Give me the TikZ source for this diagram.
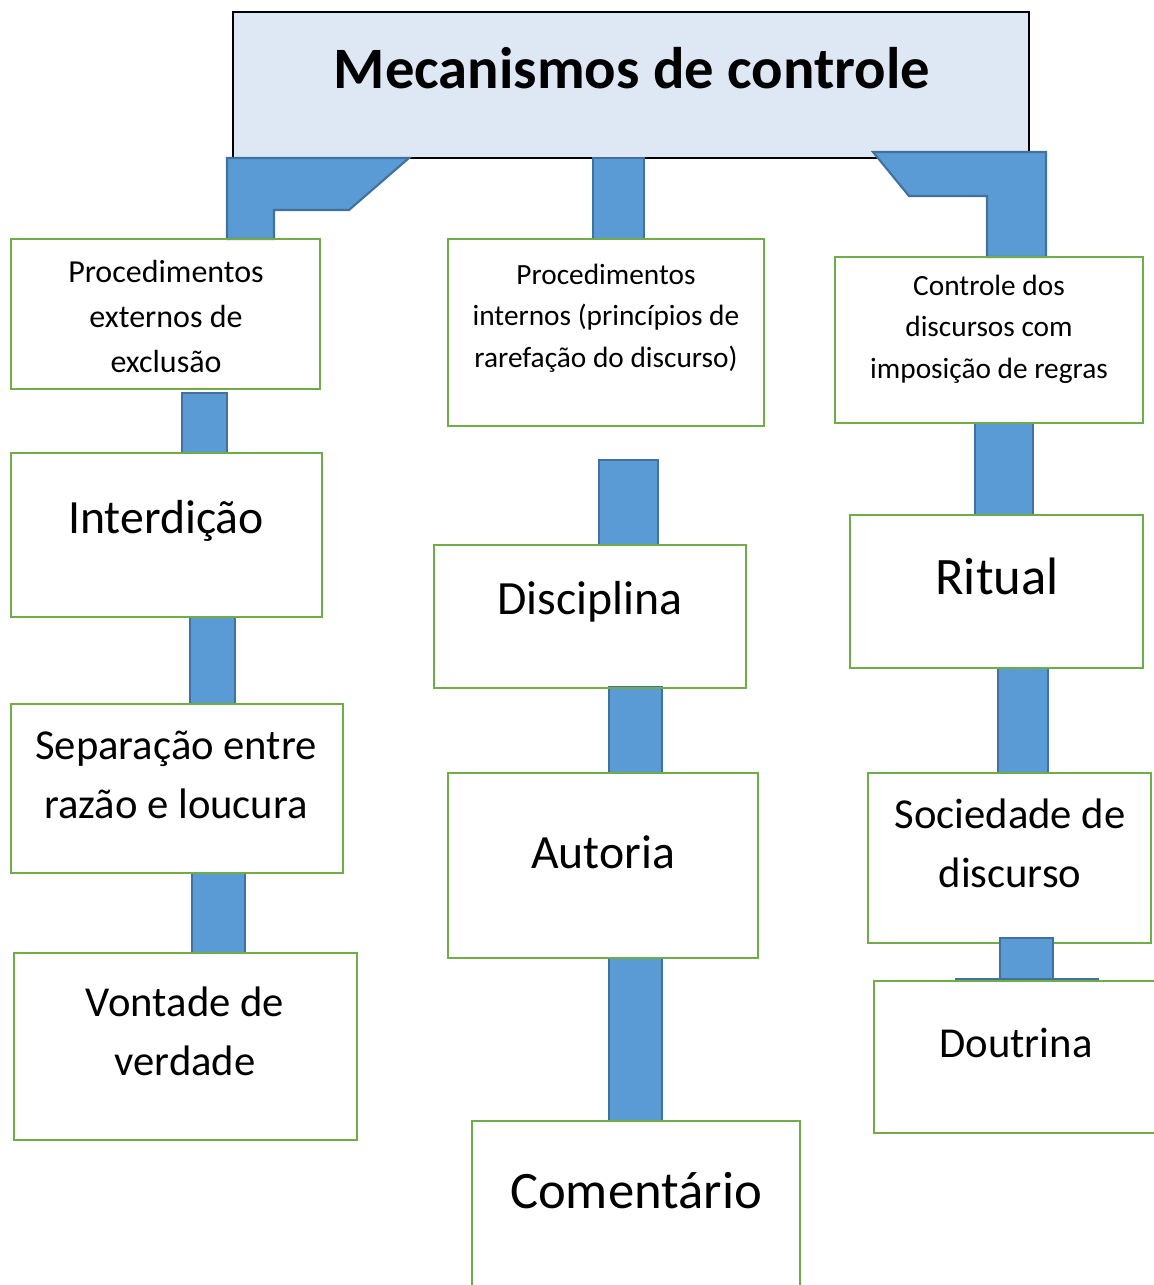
\documentclass[tikz,border=0pt]{standalone}
\usepackage{fontspec}
\setmainfont{Carlito}
\usetikzlibrary{fit}
\definecolor{titlefill}{HTML}{DEE8F4}
\definecolor{barfill}{HTML}{5B9BD5}
\definecolor{barline}{HTML}{41719C}
\definecolor{boxline}{HTML}{70AD47}
\begin{document}
\begin{tikzpicture}[x=0.75pt,y=-0.75pt,
  bar/.style={fill=barfill,draw=barline,line width=1.6pt,line join=miter},
  gbox/.style={draw=boxline,line width=1.8pt,inner sep=0pt},
  tbox/.style={draw=black,line width=2pt,fill=titlefill,inner sep=0pt},
  small/.style={align=center,font=\fontsize{22}{31}\selectfont},
  smallA/.style={align=center,font=\fontsize{24}{33.75}\selectfont},
  big/.style={align=center,font=\fontsize{32}{44.5}\selectfont},
  large/.style={align=center,font=\fontsize{35.8}{44}\selectfont},
  huge/.style={align=center,font=\fontsize{39.5}{44}\selectfont}]
\useasboundingbox (0,0) rectangle (1153,1285);
% title
\node[tbox,fit={(233,12) (1029,158)}] (title) {};
\node[font=\fontsize{44}{50}\selectfont\bfseries] (ttitle) at (632,68) {Mecanismos de controle};
% top connectors
\draw[bar] (227,158) -- (409,158) -- (349,210) -- (274,210) -- (274,239) -- (227,239) -- cycle;
\draw[bar] (593,158) rectangle (644,239);
\draw[bar] (873,152) -- (1046,152) -- (1046,257) -- (987,257) -- (987,196) -- (909,196) -- cycle;
% column connectors
\draw[bar] (182,393) rectangle (227,453);
\draw[bar] (190,617) rectangle (235,704);
\draw[bar] (192,873) rectangle (245,953);
\draw[bar] (599,460) rectangle (658,545);
\draw[bar] (609,687) rectangle (662,773);
\draw[bar] (609,958) rectangle (662,1121);
\draw[bar] (975,423) rectangle (1033,515);
\draw[bar] (998,668) rectangle (1048,773);
% boxes
\node[gbox,fit={(11,239) (320,389)}] (b1) {};
\node[gbox,fit={(448,239) (764,426)}] (b2) {};
\node[gbox,fit={(835,257) (1143,423)}] (b3) {};
\node[gbox,fit={(11,453) (322,617)}] (b4) {};
\node[gbox,fit={(11,704) (343,873)}] (b5) {};
\node[gbox,fit={(14,953) (357,1140)}] (b6) {};
\node[gbox,fit={(434,545) (746,688)}] (b7) {};
\node[gbox,fit={(448,773) (758,958)}] (b8) {};
\node[gbox,fit={(472,1121) (800,1295)}] (b9) {};
\node[gbox,fit={(850,515) (1143,668)}] (b10) {};
\node[gbox,fit={(868,773) (1151,943)}] (b11) {};
\node[gbox,fit={(874,981) (1165,1133)}] (b12) {};
% doutrina connector (on top)
\draw[bar] (1000,938) rectangle (1053,979);
\draw[barline,line width=1.5pt] (955,979) -- (1099,979);
% texts
\node[smallA] (t1) at (166,317) {Procedimentos\\externos de\\exclusão};
\node[small] (t2) at (606,318) {Procedimentos\\internos (princípios de\\rarefação do discurso)};
\node[small] (t3) at (989,329) {Controle dos\\discursos com\\imposição de regras};
\node[large] (t4) at (166,521) {Interdição};
\node[big] (t5) at (176,775) {Separação entre\\razão e loucura};
\node[big] (t6) at (185,1031) {Vontade de\\verdade};
\node[large] (t7) at (590,602) {Disciplina};
\node[large] (t8) at (603,852) {Autoria};
\node[huge] (t9) at (636,1191) {Comentário};
\node[huge] (t10) at (997,576) {Ritual};
\node[big] (t11) at (1010,843) {Sociedade de\\discurso};
\node[big] (t12) at (1016,1043) {Doutrina};
\end{tikzpicture}
\end{document}
